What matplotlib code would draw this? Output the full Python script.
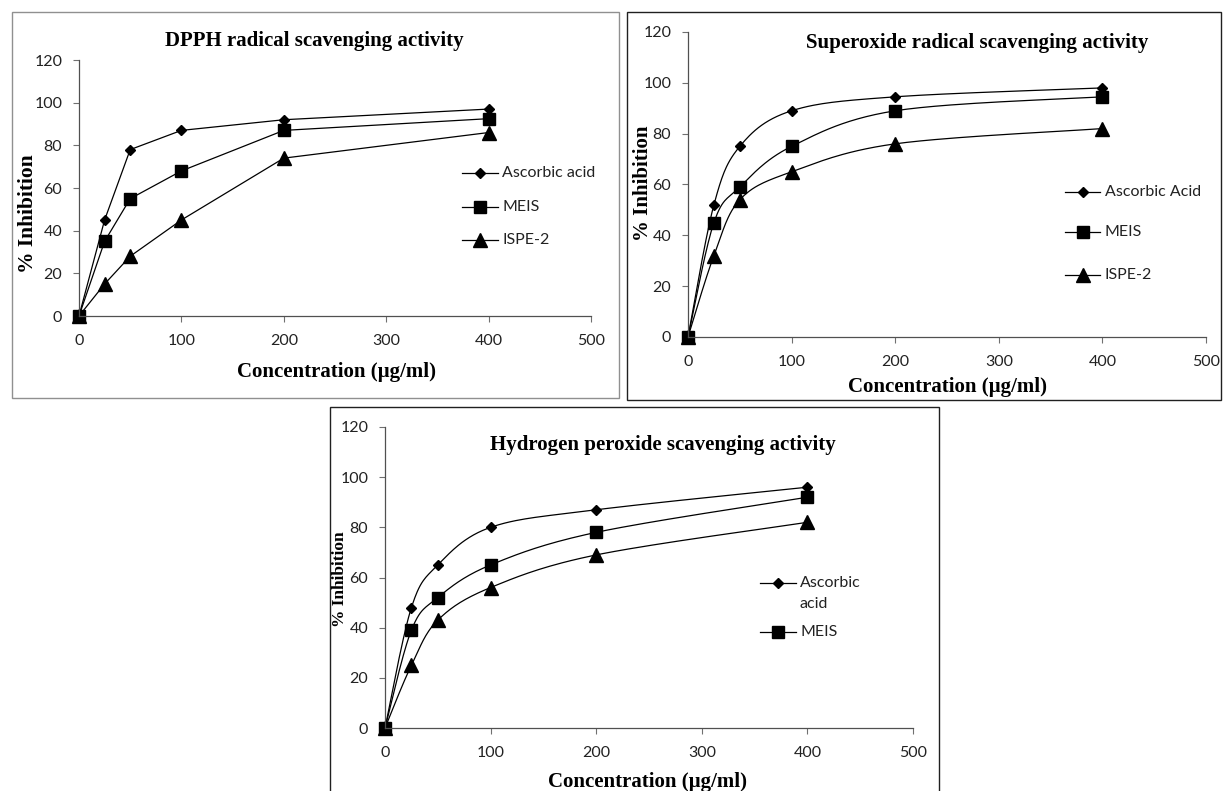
import numpy as np
import matplotlib
matplotlib.use("Agg")
import matplotlib.pyplot as plt
from matplotlib.patches import Rectangle
from matplotlib.lines import Line2D

W, H = 1224, 791

conc = [0, 25, 50, 100, 200, 400]

# DPPH radical scavenging
dpph_ascorbic = [0, 45, 78, 87, 92, 97]
dpph_meis     = [0, 35, 55, 68, 87, 92.5]
dpph_ispe2    = [0, 15, 28, 45, 74, 86]

# Superoxide radical scavenging
sox_ascorbic = [0, 52, 75, 89, 94.5, 98]
sox_meis     = [0, 45, 59, 75, 89, 94.5]
sox_ispe2    = [0, 32, 54, 65, 76, 82]

# Hydrogen peroxide scavenging
h2o2_ascorbic = [0, 48, 65, 80, 87, 96]
h2o2_meis     = [0, 39, 52, 65, 78, 92]
h2o2_ispe2    = [0, 25, 43, 56, 69, 82]

x_ticks = [0, 100, 200, 300, 400, 500]
y_ticks = [0, 20, 40, 60, 80, 100, 120]

SERIF = "Liberation Serif"
SANS = "Lato"
MARKERS = [("D", 5.2), ("s", 8.5), ("^", 10)]
TXT = "#222222"


def px(x, y):
    return x / W, 1 - y / H


def smooth(xs, ys, n=30):
    # excel-style smoothed line: bezier segments through the points
    p = np.column_stack([xs, ys]).astype(float)
    pts = np.vstack([p[0], p, p[-1]])
    out = []
    t = np.linspace(0, 1, n)[:, None]
    for i in range(1, len(pts) - 2):
        p0, p3 = pts[i], pts[i + 1]
        c1 = p0 + (pts[i + 1] - pts[i - 1]) / 6
        c2 = p3 - (pts[i + 2] - pts[i]) / 6
        seg = ((1 - t) ** 3) * p0 + 3 * ((1 - t) ** 2) * t * c1 + 3 * (1 - t) * t ** 2 * c2 + t ** 3 * p3
        out.append(seg)
    out = np.vstack(out)
    return out[:, 0], out[:, 1]


def make_panel(fig, box, axbox, series, labels, smooth_lines, title, title_xy,
               ylab_xy, ylab_size, xlab_xy, leg_x, leg_rows, box_color):
    bx0, by0, bx1, by1 = box
    fig.patches.append(Rectangle(px(bx0, by1), (bx1 - bx0) / W, (by1 - by0) / H,
                                 transform=fig.transFigure, fill=False,
                                 edgecolor=box_color, linewidth=1.0))
    l, r, t, b = axbox
    x0, y0 = px(l, b)
    ax = fig.add_axes([x0, y0, (r - l) / W, (b - t) / H])
    ax.patch.set_alpha(0)
    for (mk, ms), ys in zip(MARKERS, series):
        if smooth_lines:
            sx, sy = smooth(conc, ys)
            ax.plot(sx, sy, color="black", lw=0.9, clip_on=False)
        else:
            ax.plot(conc, ys, color="black", lw=0.9, clip_on=False)
        ax.plot(conc, ys, linestyle="none", marker=mk, ms=ms, color="black", clip_on=False)
    ax.set_xlim(0, 500)
    ax.set_ylim(0, 120)
    ax.set_xticks(x_ticks)
    ax.set_yticks(y_ticks)
    for s in ["top", "right"]:
        ax.spines[s].set_visible(False)
    for s in ["left", "bottom"]:
        ax.spines[s].set_color("#505050")
        ax.spines[s].set_linewidth(0.9)
    ax.tick_params(axis="both", direction="out", length=4, width=0.8, color="#707070",
                   labelsize=11.5, labelcolor=TXT)
    ax.tick_params(axis="x", pad=9)
    ax.tick_params(axis="y", pad=8)
    for lab in ax.get_xticklabels() + ax.get_yticklabels():
        lab.set_fontfamily(SANS)

    fig.text(*px(*title_xy), title, ha="center", va="center", fontsize=15,
             fontweight="bold", family=SERIF)
    fig.text(*px(*ylab_xy), "% Inhibition", ha="center", va="center", rotation=90,
             fontsize=ylab_size, fontweight="bold", family=SERIF)
    fig.text(*px(*xlab_xy), "Concentration (\u00b5g/ml)", ha="center", va="center",
             fontsize=15, fontweight="bold", family=SERIF)

    # legend glyphs drawn by hand so the handle sits on the first text line
    lx0, lx1, tx = leg_x
    for (mk, ms), lab, ry in zip(MARKERS, labels, leg_rows):
        if lab is None:
            continue
        _, fy = px(0, ry)
        fig.lines.append(Line2D([lx0 / W, lx1 / W], [fy, fy], transform=fig.transFigure,
                                color="black", lw=0.9))
        fig.lines.append(Line2D([(lx0 + lx1) / 2 / W], [fy], transform=fig.transFigure,
                                marker=mk, ms=ms * 0.95, color="black", linestyle="none"))
        lines = lab.split("\n")
        for k, part in enumerate(lines):
            fig.text(tx / W, px(0, ry + 21 * k)[1], part, ha="left", va="center",
                     fontsize=11.5, family=SANS, color=TXT)
    return ax


fig = plt.figure(figsize=(W / 100, H / 100), dpi=100)

make_panel(fig, (12, 12, 619, 398), (79, 591, 60, 316),
           [dpph_ascorbic, dpph_meis, dpph_ispe2],
           ["Ascorbic acid", "MEIS", "ISPE-2"], False,
           "DPPH radical scavenging activity", (314, 41),
           (28, 214), 15.5, (336, 372), (462, 498, 502), [173, 207, 240], "#909090")

make_panel(fig, (627, 12, 1221, 400), (688, 1206, 32, 337),
           [sox_ascorbic, sox_meis, sox_ispe2],
           ["Ascorbic Acid", "MEIS", "ISPE-2"], True,
           "Superoxide radical scavenging activity", (977, 43),
           (643, 183), 15, (948, 387), (1065, 1100, 1105), [192, 232, 275], "#202020")

make_panel(fig, (330, 407, 939, 805), (385, 913, 427, 728),
           [h2o2_ascorbic, h2o2_meis, h2o2_ispe2],
           ["Ascorbic\nacid", "MEIS", None], True,
           "Hydrogen peroxide scavenging activity", (663, 445),
           (340, 579), 12.5, (647, 782), (760, 796, 800), [583, 632, 0], "#202020")

fig.savefig("out.png", dpi=100)
